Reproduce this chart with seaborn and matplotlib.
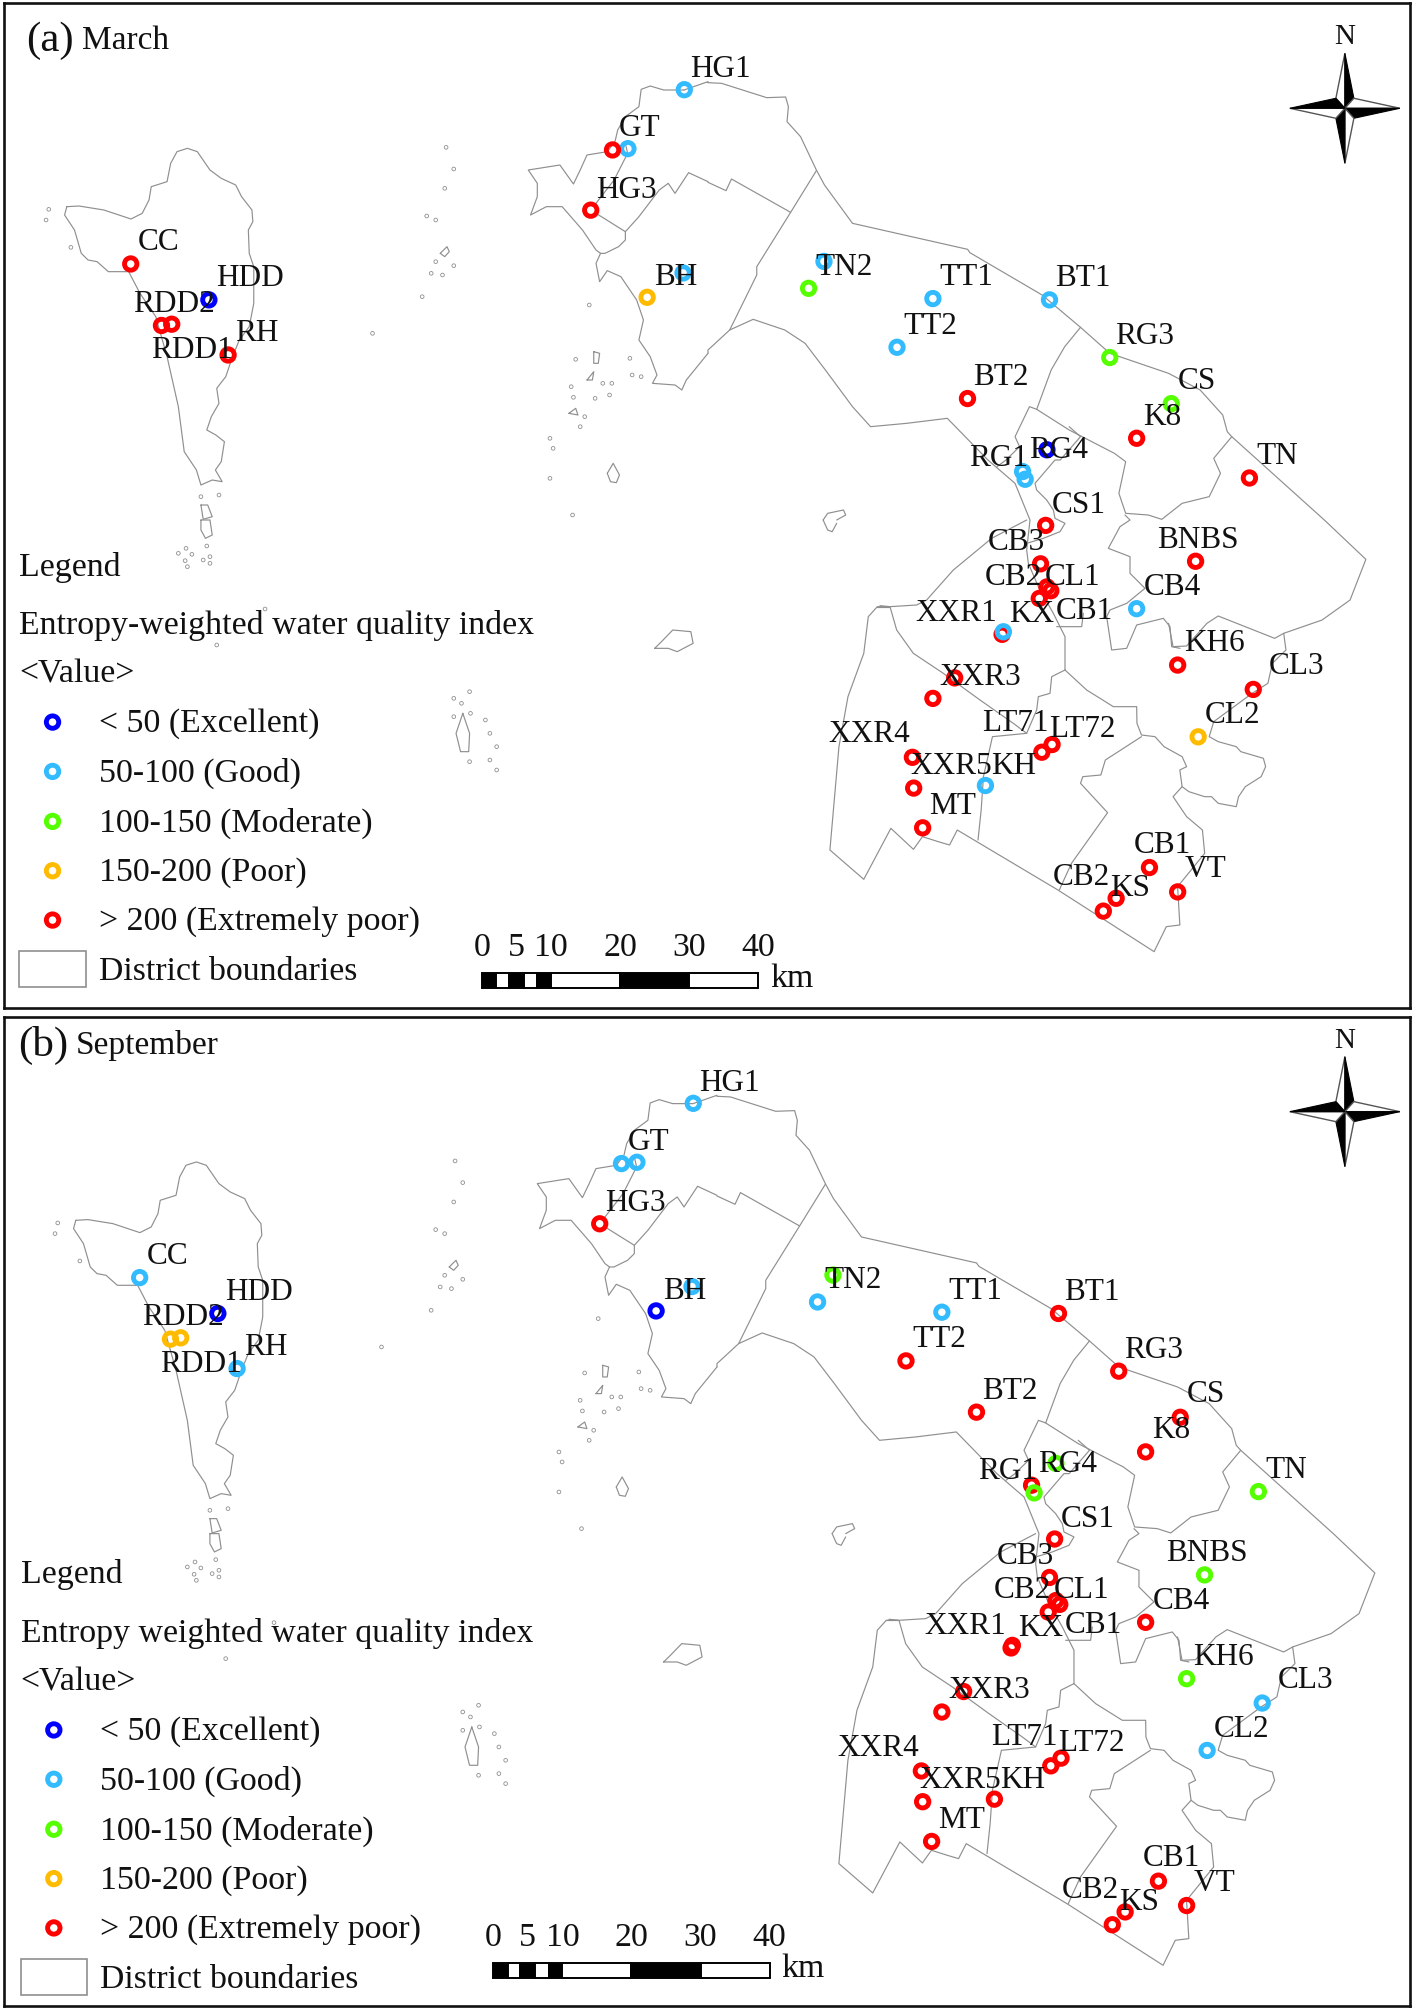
import matplotlib
matplotlib.use('Agg')
import matplotlib.pyplot as plt
from matplotlib.patches import Rectangle
import numpy as np
import pandas as pd
import seaborn as sns

W, H = 1416, 2009
UNIT = 1416 / 1105  # map units are px of the 1105 wide picture

# water quality classes
CLASSES = ['< 50 (Excellent)', '50-100 (Good)', '100-150 (Moderate)', '150-200 (Poor)', '> 200 (Extremely poor)']
CLASS_COLORS = ['#0000FF', '#33BBFF', '#55FF00', '#FFBB00', '#FF0000']
E, G, M, P, X = CLASSES

# stations, map units of panel (a). empty name = label not printed
station_names = ['CC', 'HDD', 'RDD1', 'RDD2', 'RH', 'HG1', 'GT', '', 'HG3', 'BH', '', 'TN2', '', 'TT1', 'TT2',
                 'BT1', 'RG3', 'CS', 'K8', 'BT2', 'RG4', 'RG1', '', 'TN', 'CS1', 'CB3', 'CB2', 'CL1', '',
                 'BNBS', 'CB4', 'XXR1', 'KX', 'KH6', 'XXR3', '', 'CL3', 'CL2', 'LT71', 'LT72', 'XXR4',
                 'XXR5', 'KH', 'MT', 'CB1', 'VT', 'KS', 'CB2']
station_x = [102, 163, 126, 134, 178, 534, 490, 478, 461, 533, 505, 643, 631, 728, 700,
             819, 866, 914, 887, 755, 817, 798, 800, 975, 816, 812, 817, 820, 811,
             933, 887, 782, 783, 919, 745, 728, 978, 935, 813, 821, 712,
             713, 769, 720, 897, 919, 871, 861]
station_y = [206, 234, 254, 253, 277, 70, 116, 117, 164, 213, 232, 204, 225, 233, 271,
             234, 279, 315, 342, 311, 351, 368, 374, 373, 410, 440, 458, 461, 467,
             438, 475, 495, 493, 519, 529, 545, 538, 575, 587, 581, 591,
             615, 613, 646, 677, 696, 701, 711]
march_class = [X, E, X, X, X, G, G, X, X, G, P, G, M, G, G,
               G, M, M, X, X, E, G, G, X, X, X, X, X, X,
               X, G, X, G, X, X, X, X, P, X, X, X,
               X, G, X, X, X, X, X]
sept_class = [G, E, P, P, G, G, G, G, X, G, E, M, G, G, X,
              X, X, X, X, X, M, X, M, M, X, X, X, X, X,
              M, X, X, X, M, X, X, G, G, X, X, X,
              X, X, X, X, X, X, X]

# label centres, one per named station
label_x = [124, 195, 150, 136, 200, 562, 499, 489, 527, 659, 754, 726,
           845, 893, 934, 907, 781, 826, 779, 997, 842, 793, 791, 837,
           935, 915, 746, 805, 948, 765, 1012, 962, 792, 845, 678,
           742, 791, 743, 907, 941, 882, 844]
label_y = [188, 216, 272, 236, 259, 53, 99, 147, 215, 207, 215, 253,
           216, 261, 296, 324, 293, 350, 356, 355, 393, 422, 449, 449,
           420, 457, 477, 478, 501, 527, 519, 557, 563, 568, 572,
           597, 597, 628, 658, 677, 692, 683]
extra_label = ('CB1', 846, 476)


def crop(pts, x0, y0, xf=2.2147, yf=3.0):
    # outlines were traced on zoomed crops of the map
    a = np.array(pts, dtype=float)
    return np.c_[(x0 + a[:, 0] / xf) / UNIT, (y0 + a[:, 1] / yf) / UNIT]


def cA(p): return crop(p, 0, 0)
def cB(p): return crop(p, 708, 0)
def cC(p): return crop(p, 0, 520)
def cD(p): return crop(p, 708, 520)
def cE(p): return crop(p, 880, 440, 3, 3)


west_island = cA([(148, 620), (175, 618), (230, 630), (290, 657), (315, 640), (330, 600), (335, 560), (370, 545),
                  (378, 490), (392, 455), (415, 445), (437, 455), (465, 510), (490, 535), (522, 555), (535, 590),
                  (558, 630), (560, 665), (550, 690), (552, 760), (562, 800), (562, 910), (552, 980), (530, 1020),
                  (515, 1070), (500, 1130), (480, 1165), (485, 1210), (468, 1250), (458, 1290), (478, 1305),
                  (497, 1325), (490, 1385), (477, 1410), (492, 1445), (470, 1440), (445, 1455), (435, 1410),
                  (408, 1355), (395, 1220), (370, 1070), (345, 950), (310, 880), (285, 815), (240, 815), (215, 785),
                  (195, 780), (180, 760), (165, 690), (143, 645), (148, 620)])
nw_coast = cA([(1515, 270), (1470, 270), (1440, 258), (1420, 268), (1415, 320), (1385, 350), (1368, 390), (1362, 425),
               (1345, 455), (1300, 465), (1285, 510), (1270, 552), (1240, 495), (1170, 510), (1190, 550), (1190, 590),
               (1175, 645), (1210, 620), (1245, 620), (1290, 690), (1320, 750), (1330, 760), (1320, 790), (1328, 845),
               (1345, 812), (1375, 830), (1410, 900), (1425, 960), (1415, 1020), (1440, 1070), (1455, 1125),
               (1445, 1150), (1495, 1155), (1510, 1170), (1520, 1140), (1550, 1090), (1568, 1060)])
n_coast = np.r_[cA([(1515, 270), (1568, 245)]),
                cB([(0, 248), (30, 250), (130, 293), (172, 291), (178, 320), (175, 365), (205, 410), (240, 510),
                    (258, 555), (320, 670), (575, 748), (580, 758), (740, 885), (825, 982), (890, 1060), (1020, 1120),
                    (1090, 1170), (1140, 1245), (1150, 1295), (1160, 1310), (1365, 1560)]),
                cD([(1365, 0), (1457, 118), (1422, 240), (1360, 300), (1275, 340), (1280, 390), (1250, 430),
                    (1240, 490), (1205, 520), (1165, 560), (1120, 605), (1110, 650), (1130, 665), (1170, 680),
                    (1180, 695), (1230, 715), (1235, 740), (1225, 770), (1190, 800), (1175, 830), (1170, 860),
                    (1130, 850), (1115, 830), (1100, 830), (1065, 815), (1050, 800), (1030, 830),
                    (1060, 890), (1095, 930), (1100, 1000), (1040, 1100), (1045, 1215), (1015, 1220), (988, 1295),
                    (775, 1110), (552, 930), (535, 975), (510, 965), (475, 950), (455, 988), (405, 925), (345, 1078),
                    (270, 990), (290, 680), (310, 530), (345, 400), (355, 290), (375, 260), (400, 260)])]
bay_coast = np.r_[cA([(1568, 1060)]),
                  cB([(0, 1050), (48, 990), (100, 958), (170, 990), (215, 1030), (260, 1110), (320, 1220), (360, 1280),
                      (440, 1270), (530, 1255), (620, 1380), (680, 1450)]),
                  cE([(450, 240), (440, 330), (445, 370), (475, 440), (520, 520), (555, 590), (555, 690)])]
hg_inner = cA([(1385, 430), (1390, 460), (1360, 540), (1320, 610), (1320, 640), (1385, 695), (1415, 650), (1460, 570),
               (1480, 550), (1495, 580), (1525, 518), (1568, 545)])
hg_inner2 = np.r_[cB([(0, 547), (40, 572), (52, 537), (183, 637)])]
hg_south = cA([(1385, 695), (1385, 720), (1370, 740), (1340, 760), (1330, 760)])
hg_split = cB([(240, 512), (183, 637), (108, 800), (108, 825), (48, 990)])
tt_split = cB([(825, 982), (790, 1040), (760, 1110), (728, 1228), (800, 1290), (900, 1360), (925, 1385), (910, 1480),
               (925, 1540), (975, 1545), (1005, 1558), (1050, 1510), (1110, 1490), (1135, 1420), (1120, 1375), (1160, 1310)])
rg_left = cB([(728, 1228), (712, 1220), (680, 1310), (690, 1340), (660, 1380), (640, 1400)])
rg_right = np.r_[cB([(800, 1280), (825, 1310), (780, 1380)]), cE([(525, 60), (465, 130), (470, 150), (500, 180),
                 (520, 210), (525, 235), (555, 250), (540, 275), (490, 295), (440, 310)])]
xxr_top = cE([(0, 497), (30, 500), (110, 495), (140, 480), (220, 390), (335, 295), (440, 240)])
xxr_loop = cE([(30, 500), (50, 570), (100, 640), (190, 700), (300, 780), (400, 850), (440, 880)])
xxr_west = cD([(400, 260), (375, 260)])
kx_box = cE([(530, 560), (605, 560), (610, 520)])
cb_right = cE([(735, 225), (750, 240), (720, 260), (685, 325), (750, 350), (750, 400), (795, 445), (740, 490), (690, 510),
               (680, 530), (695, 630), (740, 625), (770, 555), (810, 545), (850, 535), (870, 560), (875, 620), (900, 625)])
kh_east = cD([(1020, 310), (1030, 380), (1060, 378), (1105, 310), (1130, 288), (1255, 355), (1275, 340)])
lt_south = np.r_[cE([(555, 690), (620, 750), (700, 800), (770, 800)]),
                 cD([(950, 610), (960, 645), (990, 650), (1010, 680), (1050, 710), (1060, 740), (1045, 750), (1050, 800)])]
lt_step = np.r_[cE([(555, 690), (515, 710), (510, 760), (475, 770), (470, 810), (440, 880)]),
                cD([(630, 650), (610, 770), (605, 870), (598, 960)])]
ks_split = cD([(960, 650), (880, 720), (870, 765), (830, 770), (825, 790), (885, 878), (805, 1030), (778, 1110)])
rock_island = cC([(1450, 385), (1465, 365), (1490, 330), (1530, 335), (1535, 370), (1500, 395), (1480, 385), (1450, 385)])
big_islets = [
    cB([(255, 1560), (265, 1540), (300, 1530), (305, 1545), (285, 1560)]),
    cD([(255, 0), (265, 30), (275, 35), (285, 10)]),
    cA([(1345, 1420), (1358, 1390), (1372, 1425), (1365, 1448), (1352, 1445), (1345, 1420)]),
    cA([(1315, 1055), (1328, 1060), (1325, 1090), (1315, 1090), (1315, 1055)]),
    cA([(445, 1515), (460, 1515), (470, 1550), (450, 1558), (445, 1515)]),
    cC([(445, 0), (465, 0), (470, 45), (455, 55), (445, 30), (445, 0)]),
    cC([(1025, 580), (1040, 640), (1038, 695), (1020, 695), (1010, 640), (1025, 580)]),
    cA([(975, 760), (990, 740), (995, 755), (985, 770), (975, 760)]),
    cA([(1260, 1240), (1275, 1225), (1280, 1245), (1260, 1240)]),
    cA([(1300, 1140), (1315, 1115), (1312, 1140), (1300, 1140)]),
]
outlines = [west_island, nw_coast, n_coast, bay_coast, hg_inner, hg_inner2, hg_south, hg_split, tt_split, rg_left, rg_right,
            xxr_top, xxr_loop, xxr_west, kx_box, cb_right, kh_east, lt_south, lt_step, ks_split, rock_island] + big_islets

# small islets, drawn as tiny rings
islets = np.r_[
    cA([(988, 442), (1005, 507), (985, 565), (945, 648), (965, 660), (965, 785), (1005, 797), (980, 825), (955, 820),
        (935, 890), (825, 1000), (1275, 1078), (1355, 1150), (1350, 1185), (1265, 1160), (1270, 1192), (1295, 1250),
        (1285, 1280), (1400, 1125), (1420, 1130), (1395, 1075), (1305, 915), (1218, 1315), (1225, 1345), (1218, 1435),
        (1268, 1545), (108, 628), (102, 660), (157, 742), (445, 1490), (485, 1485), (1335, 1150), (1318, 1195)]),
    cC([(458, 78), (425, 103), (410, 122), (450, 120), (465, 110), (412, 85), (395, 100), (415, 140), (465, 130), (587, 267),
        (480, 375), (1040, 515), (1022, 550), (1005, 590), (1075, 600), (1085, 640), (1100, 680), (1085, 720), (1040, 725),
        (1100, 750), (1005, 535), (1042, 580)])]

# compass star, px from its centre, one tip and its two corners per arm
star_tips = [(0, 55), (55, 0), (0, -55), (-55, 0)]
star_corners = [((-9, 10), (9, 10)), ((9, 10), (9, -10)), ((9, -10), (-9, -10)), ((-9, -10), (-9, 10))]

# scale bar
scale_edges = [0, 2.1, 3.9, 6.1, 8, 10, 20, 30, 40]
scale_ticks = [0, 5, 10, 20, 30, 40]

sns.set_theme(style='white')
plt.rcParams['font.family'] = ['Liberation Serif', 'DejaVu Serif']
TEXT = '#111111'
LINE = '#8f8f8f'
FS = 24.4


def put(ax, x, y, s, size=FS, ha='left', z=5):
    ax.text(x, y + 1.5, s, ha=ha, va='center', fontsize=size, color=TEXT, zorder=z)


def rings(ax, x, y, cls, size=80, lw=3.5):
    # seaborn fills the hue colour, the symbols here are open rings
    before = len(ax.collections)
    sns.scatterplot(x=x, y=y, hue=pd.Categorical(cls, categories=CLASSES), palette=CLASS_COLORS,
                    s=size, linewidth=lw, legend=False, ax=ax, zorder=4)
    pts = ax.collections[before]
    pts.set_edgecolors(pts.get_facecolors())
    pts.set_facecolors('none')


def draw_panel(ax, classes, tag, month, tag_xy, month_xy, wq_title, legend_off, scale_off, star_off):
    for line in outlines:
        sns.lineplot(x=line[:, 0], y=line[:, 1], sort=False, estimator=None, color=LINE, lw=0.85, ax=ax, zorder=2)
    ax.scatter(islets[:, 0], islets[:, 1], s=7, facecolors='none', edgecolors=LINE, linewidths=0.6, zorder=2)

    rings(ax, station_x, station_y, classes)

    named = [n for n in station_names if n]
    for name, lx, ly in zip(named, label_x, label_y):
        put(ax, lx, ly, name, size=22.5, ha='center')
    put(ax, extra_label[1], extra_label[2], extra_label[0], size=22.5, ha='center')

    put(ax, tag_xy[0], tag_xy[1], tag, size=31)
    put(ax, month_xy[0], month_xy[1], month, size=24)

    # legend block
    dx, dy = legend_off
    put(ax, 15 + dx, 441 + dy, 'Legend')
    put(ax, 15 + dx, 487 + dy, wq_title)
    put(ax, 15 + dx, 525 + dy, '<Value>')
    rows = [563.5 + dy, 602 + dy, 641 + dy, 679.5 + dy, 718 + dy]
    rings(ax, [41 + dx] * 5, rows, CLASSES)
    for cls, ry in zip(CLASSES, rows):
        put(ax, 77 + dx, ry, cls)
    ax.add_patch(Rectangle((15 + dx, 742 + dy), 52, 28, fc='white', ec=LINE, lw=1.2))
    put(ax, 77 + dx, 757 + dy, 'District boundaries')

    # scale bar, 5.39 map units per km
    sx, sy = scale_off
    per_km = 5.39
    for i in range(len(scale_edges) - 1):
        ax.barh(765 + sy, (scale_edges[i + 1] - scale_edges[i]) * per_km, height=11.5,
                left=376 + sx + scale_edges[i] * per_km, color='black' if i % 2 == 0 else 'white',
                edgecolor='black', linewidth=1.4, zorder=3)
    for km in scale_ticks:
        put(ax, 376 + sx + km * per_km, 738 + sy, str(km), ha='center')
    put(ax, 601 + sx, 762 + sy, 'km')

    # north arrow
    cx, cy = 1049.5 + star_off[0], 84.5 + star_off[1]
    k = 1 / UNIT
    for tip, (c1, c2) in zip(star_tips, star_corners):
        t = (cx + tip[0] * k, cy - tip[1] * k)
        a = (cx + c1[0] * k, cy - c1[1] * k)
        b = (cx + c2[0] * k, cy - c2[1] * k)
        ax.fill([t[0], a[0], cx], [t[1], a[1], cy], fc='white', ec='#555555', lw=1, zorder=3)
        ax.fill([t[0], b[0], cx], [t[1], b[1], cy], fc='black', ec='black', lw=0.8, zorder=3)
    put(ax, cx, cy - 57, 'N', size=21, ha='center')

    ax.set(xlabel='', ylabel='', xticks=[], yticks=[])
    for s in ax.spines.values():
        s.set_visible(True)
        s.set_color('#111111')
        s.set_linewidth(1.9)


fig = plt.figure(figsize=(W / 100, H / 100), dpi=100, facecolor='white')

# panel frames in px of the reference
frame_l, frame_r = 3.6, 1410
top_a, bot_a = 2.7, 1007.7
top_b, bot_b = 1016.7, 2006
off_x, off_y = 7, 791  # panel (b) map sits this far from panel (a)

ax_a = fig.add_axes([frame_l / W, 1 - bot_a / H, (frame_r - frame_l) / W, (bot_a - top_a) / H])
ax_b = fig.add_axes([frame_l / W, 1 - bot_b / H, (frame_r - frame_l) / W, (bot_b - top_b) / H])

draw_panel(ax_a, march_class, '(a)', 'March', (20, 30), (64, 30),
           'Entropy-weighted water quality index', (0, 0), (0, 0), (0, 0))
draw_panel(ax_b, sept_class, '(b)', 'September', (14 - off_x, 814 - off_y), (59 - off_x, 814 - off_y),
           'Entropy weighted water quality index', (-6, -4.5), (2, -18), (-7, -8))

ax_a.set_xlim(frame_l / UNIT, frame_r / UNIT)
ax_a.set_ylim(bot_a / UNIT, top_a / UNIT)
ax_b.set_xlim(frame_l / UNIT - off_x, frame_r / UNIT - off_x)
ax_b.set_ylim(bot_b / UNIT - off_y, top_b / UNIT - off_y)

fig.savefig('out.png', dpi=100)
plt.close(fig)
